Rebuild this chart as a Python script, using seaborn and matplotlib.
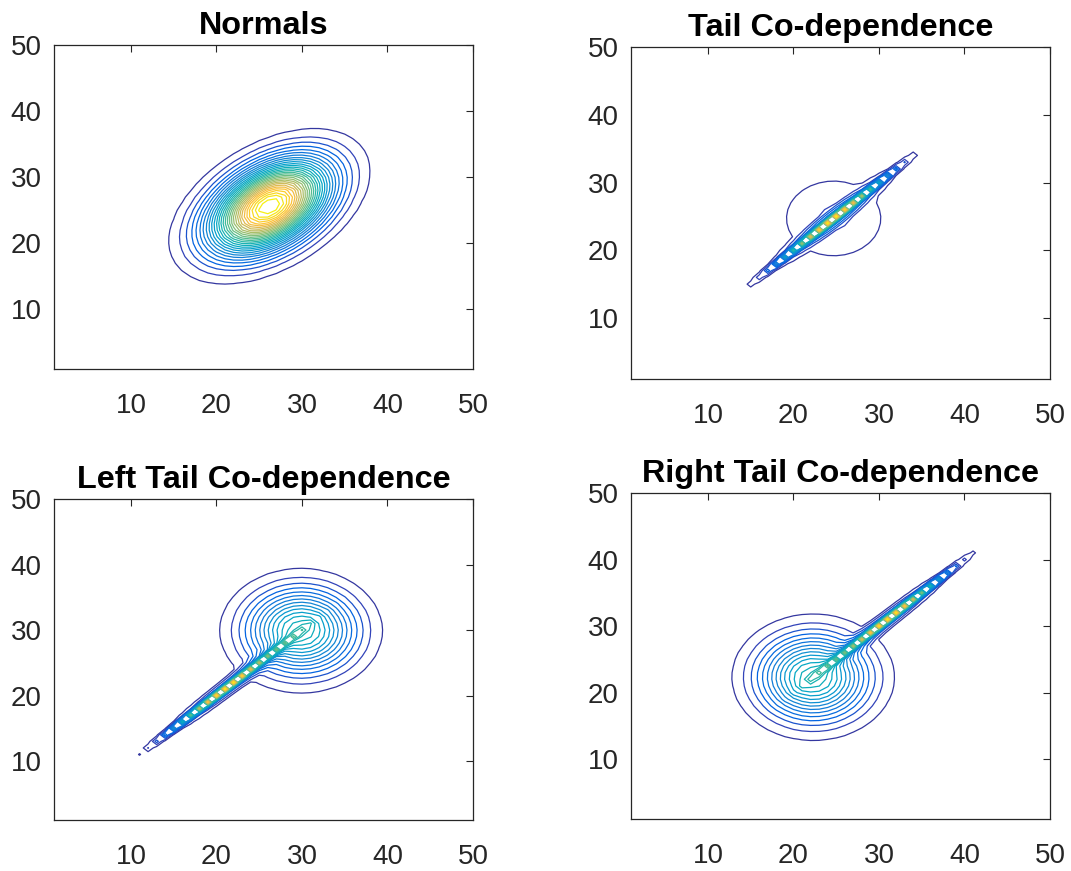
import numpy as np
import matplotlib
matplotlib.use("Agg")
import matplotlib.pyplot as plt
from matplotlib.colors import Normalize, LinearSegmentedColormap
import seaborn as sns

# panel titles
titles = ["Normals", "Tail Co-dependence", "Left Tail Co-dependence", "Right Tail Co-dependence"]

# grid of the density surface (index coordinates 1..50)
grid = np.arange(1, 51)
ticks = [10, 20, 30, 40, 50]
n_levels = 30

# plain correlated normal (top left)
normal_center = [26.2, 25.6]
normal_sigma = 4.47
normal_rho = 0.45

# mixtures: narrow diagonal ridge + round blob (other three panels)
line_center = [24.6, 21.1, 31.2]
line_sigma = [4.0, 3.93, 3.93]
line_rho = 0.993
line_weight = [0.563, 0.192, 0.192]
blob_center = [24.7, 29.9, 22.3]
blob_sigma = [4.44, 4.13, 4.13]

# parula colour stops (position, rgb)
parula_pos = [0, 4, 8, 12, 16, 20, 24, 28, 32, 36, 40, 44, 48, 52, 56, 60, 63]
parula_rgb = [(0.2081, 0.1663, 0.5292), (0.1959, 0.2645, 0.7279), (0.0117, 0.3875, 0.8820),
              (0.0498, 0.4586, 0.8641), (0.0793, 0.5200, 0.8312), (0.0343, 0.5966, 0.8199),
              (0.0228, 0.6535, 0.7768), (0.0843, 0.6928, 0.7062), (0.2178, 0.7250, 0.6193),
              (0.3953, 0.7459, 0.5244), (0.5709, 0.7485, 0.4494), (0.7184, 0.7411, 0.3905),
              (0.8507, 0.7299, 0.3360), (0.9938, 0.7455, 0.2403), (0.9789, 0.8271, 0.1633),
              (0.9598, 0.9218, 0.0948), (0.9763, 0.9831, 0.0538)]


def bvn(X, Y, cx, cy, s, rho):
    dx = (X - cx) / s
    dy = (Y - cy) / s
    q = (dx**2 - 2 * rho * dx * dy + dy**2) / (1 - rho**2)
    return np.exp(-q / 2) / (2 * np.pi * s**2 * np.sqrt(1 - rho**2))


X, Y = np.meshgrid(grid, grid)
surfaces = [bvn(X, Y, normal_center[0], normal_center[1], normal_sigma, normal_rho)]
for k in range(3):
    z = line_weight[k] * bvn(X, Y, line_center[k], line_center[k], line_sigma[k], line_rho)
    z = z + (1 - line_weight[k]) * bvn(X, Y, blob_center[k], blob_center[k], blob_sigma[k], 0.0)
    surfaces.append(z)

sns.set_style("white")
plt.rcParams['font.family'] = ['Liberation Sans', 'DejaVu Sans']
cmap = LinearSegmentedColormap.from_list(
    "parula", [(p / 63, c) for p, c in zip(parula_pos, parula_rgb)])

fig = plt.figure(figsize=(10.71, 8.71), dpi=100)
W, H = 1071, 871
boxes = [(54, 45, 473, 369), (631, 47, 1050, 379), (54, 499, 473, 820), (631, 493, 1050, 819)]

for title, Z, (x0, y0, x1, y1) in zip(titles, surfaces, boxes):
    ax = fig.add_axes([x0 / W, 1 - y1 / H, (x1 - x0) / W, (y1 - y0) / H])
    levels = np.linspace(Z.min(), Z.max(), n_levels + 2)[1:-1]
    ax.contour(X, Y, Z, levels=levels, cmap=cmap, norm=Normalize(Z.min(), Z.max()), linewidths=0.9)
    ax.set_xlim(1, 50)
    ax.set_ylim(1, 50)
    ax.set_xticks(ticks)
    ax.set_yticks(ticks)
    ax.tick_params(direction='in', top=True, right=True, length=5, width=0.8,
                   colors='#262626', labelsize=20)
    ax.tick_params(axis='x', pad=17)
    ax.tick_params(axis='y', pad=9)
    for sp in ax.spines.values():
        sp.set_color('#262626')
        sp.set_linewidth(0.9)
    ax.set_title(title, fontsize=23.3, fontweight='bold', color='black', pad=8)

fig.savefig("out.png", dpi=100)
